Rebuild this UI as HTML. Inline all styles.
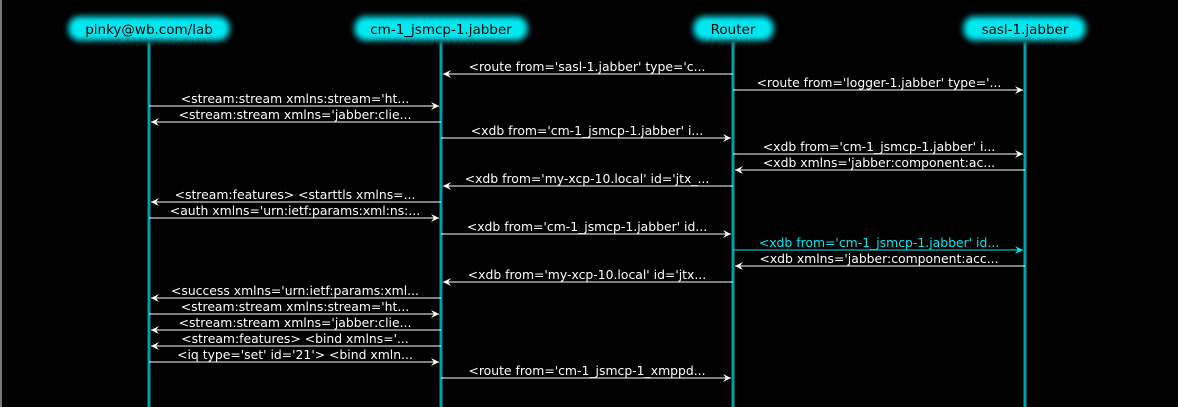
<!DOCTYPE html>
<html><head><meta charset="utf-8"><style>
html,body{margin:0;padding:0;background:#000;width:1178px;height:407px;overflow:hidden}
svg{display:block}
text{font-family:"DejaVu Sans","Liberation Sans",sans-serif}
</style></head><body>
<svg width="1178" height="407" viewBox="0 0 1178 407" xmlns="http://www.w3.org/2000/svg">
<defs>
<filter id="b" x="-10%" y="-30%" width="120%" height="160%"><feGaussianBlur stdDeviation="2"/></filter>
<marker id="a" markerWidth="10" markerHeight="10" refX="9" refY="5" orient="auto" markerUnits="userSpaceOnUse"><path d="M1,1 L9,5 L1,9 L4,5 Z" fill="#fff"/></marker>
<marker id="ac" markerWidth="10" markerHeight="10" refX="9" refY="5" orient="auto" markerUnits="userSpaceOnUse"><path d="M1,1 L9,5 L1,9 L4,5 Z" fill="#00e8f0"/></marker>
</defs>
<rect x="0" y="0" width="2" height="407" fill="#777"/>
<g stroke="#00a0a8" stroke-width="3">
<line x1="149" y1="42" x2="149" y2="407"/><line x1="441" y1="42" x2="441" y2="407"/>
<line x1="733" y1="42" x2="733" y2="407"/><line x1="1025" y1="42" x2="1025" y2="407"/>
</g>
<g>
<rect x="66" y="14" width="166" height="29" rx="14" fill="#005a60" filter="url(#b)"/>
<rect x="70" y="18" width="158" height="21" rx="10" fill="#00e8f0" filter="url(#b)"/>
<rect x="352" y="14" width="178" height="29" rx="14" fill="#005a60" filter="url(#b)"/>
<rect x="356" y="18" width="170" height="21" rx="10" fill="#00e8f0" filter="url(#b)"/>
<rect x="691" y="14" width="85" height="29" rx="14" fill="#005a60" filter="url(#b)"/>
<rect x="695" y="18" width="77" height="21" rx="10" fill="#00e8f0" filter="url(#b)"/>
<rect x="961" y="14" width="127" height="29" rx="14" fill="#005a60" filter="url(#b)"/>
<rect x="965" y="18" width="119" height="21" rx="10" fill="#00e8f0" filter="url(#b)"/>
</g>
<g font-size="13.5" fill="#000" text-anchor="middle">
<text x="149" y="34">pinky@wb.com/lab</text>
<text x="441" y="34">cm-1_jsmcp-1.jabber</text>
<text x="733" y="34">Router</text>
<text x="1025" y="34">sasl-1.jabber</text>
</g>
<g stroke="#fff" stroke-width="1" marker-end="url(#a)">
<line x1="733" y1="74" x2="443" y2="74"/>
<line x1="733" y1="90" x2="1023" y2="90"/>
<line x1="149" y1="106" x2="439" y2="106"/>
<line x1="441" y1="122" x2="151" y2="122"/>
<line x1="441" y1="138" x2="731" y2="138"/>
<line x1="733" y1="154" x2="1023" y2="154"/>
<line x1="1025" y1="170" x2="735" y2="170"/>
<line x1="733" y1="186" x2="443" y2="186"/>
<line x1="441" y1="202" x2="151" y2="202"/>
<line x1="149" y1="218" x2="439" y2="218"/>
<line x1="441" y1="234" x2="731" y2="234"/>
<line x1="733" y1="250" x2="1023" y2="250" stroke="#00e8f0" marker-end="url(#ac)"/>
<line x1="1025" y1="266" x2="735" y2="266"/>
<line x1="733" y1="282" x2="443" y2="282"/>
<line x1="441" y1="298" x2="151" y2="298"/>
<line x1="149" y1="314" x2="439" y2="314"/>
<line x1="441" y1="330" x2="151" y2="330"/>
<line x1="441" y1="346" x2="151" y2="346"/>
<line x1="149" y1="362" x2="439" y2="362"/>
<line x1="441" y1="378" x2="731" y2="378"/>
</g>
<g font-size="12.4" fill="#fff" text-anchor="middle">
<text x="587" y="71">&lt;route from='sasl-1.jabber' type='c...</text>
<text x="879" y="87">&lt;route from='logger-1.jabber' type='...</text>
<text x="295" y="103">&lt;stream:stream xmlns:stream='ht...</text>
<text x="295" y="119">&lt;stream:stream xmlns='jabber:clie...</text>
<text x="587" y="135">&lt;xdb from='cm-1_jsmcp-1.jabber' i...</text>
<text x="879" y="151">&lt;xdb from='cm-1_jsmcp-1.jabber' i...</text>
<text x="879" y="167">&lt;xdb xmlns='jabber:component:ac...</text>
<text x="587" y="183">&lt;xdb from='my-xcp-10.local' id='jtx_...</text>
<text x="295" y="199">&lt;stream:features&gt; &lt;starttls xmlns=...</text>
<text x="295" y="215">&lt;auth xmlns='urn:ietf:params:xml:ns:...</text>
<text x="587" y="231">&lt;xdb from='cm-1_jsmcp-1.jabber' id...</text>
<text x="879" y="247" fill="#00e8f0">&lt;xdb from='cm-1_jsmcp-1.jabber' id...</text>
<text x="879" y="263">&lt;xdb xmlns='jabber:component:acc...</text>
<text x="587" y="279">&lt;xdb from='my-xcp-10.local' id='jtx...</text>
<text x="295" y="295">&lt;success xmlns='urn:ietf:params:xml...</text>
<text x="295" y="311">&lt;stream:stream xmlns:stream='ht...</text>
<text x="295" y="327">&lt;stream:stream xmlns='jabber:clie...</text>
<text x="295" y="343">&lt;stream:features&gt; &lt;bind xmlns='...</text>
<text x="295" y="359">&lt;iq type='set' id='21'&gt; &lt;bind xmln...</text>
<text x="587" y="375">&lt;route from='cm-1_jsmcp-1_xmppd...</text>
</g>
</svg>
</body></html>
